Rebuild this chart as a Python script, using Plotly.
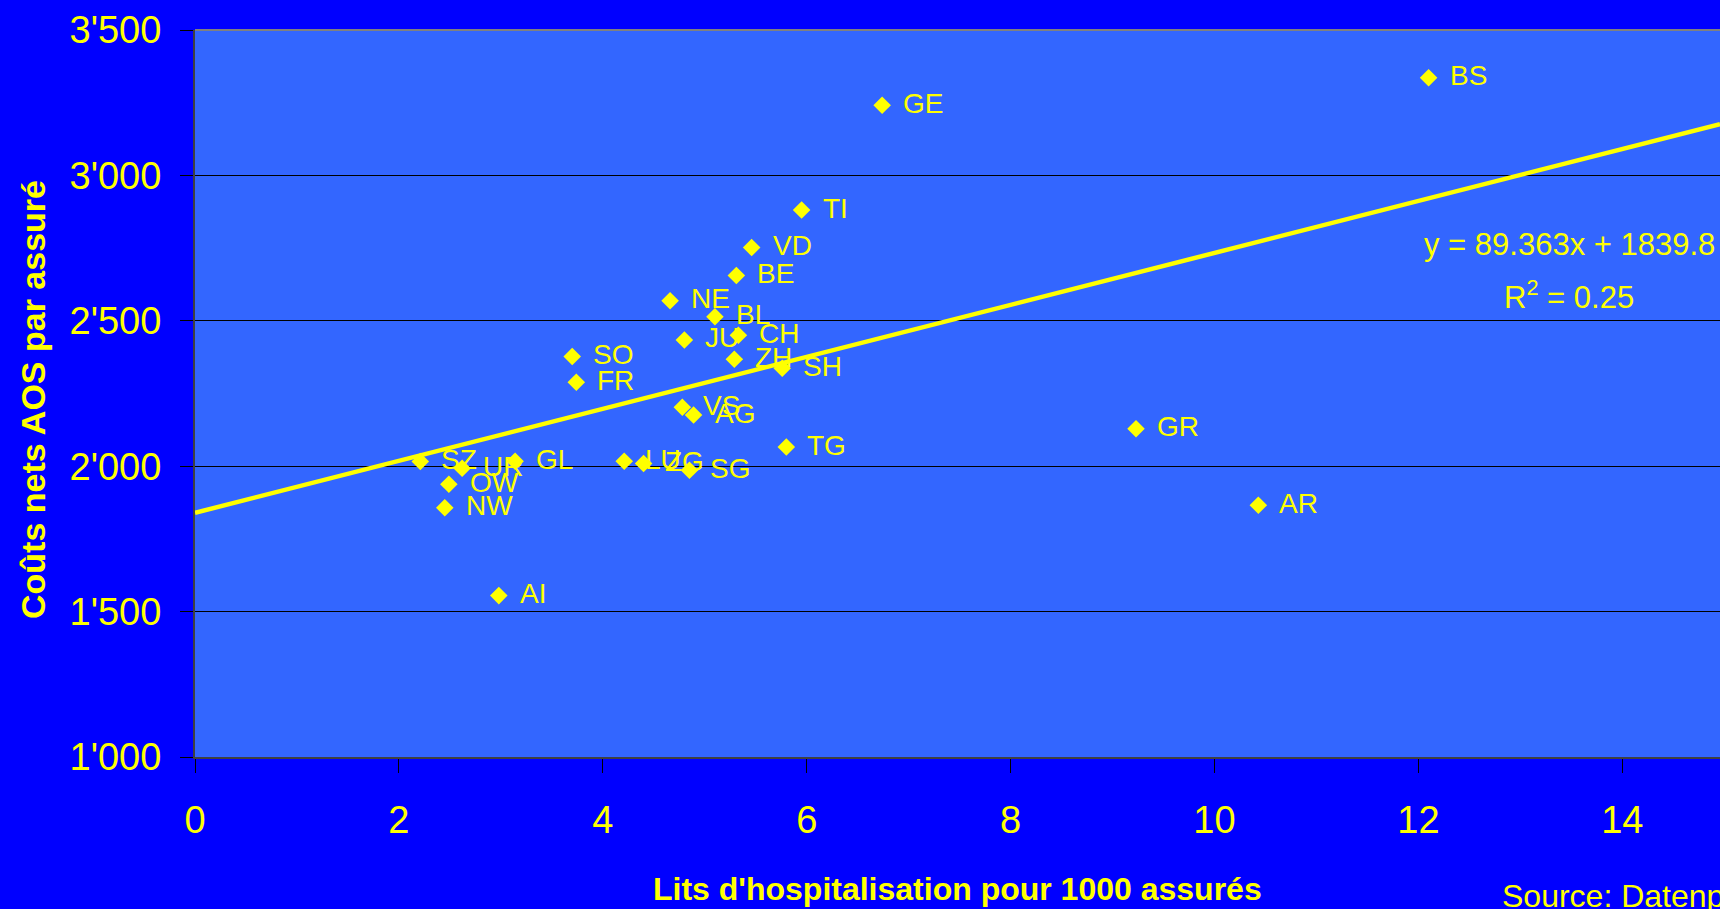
import plotly.graph_objects as go

# Canton data: hospital beds per 1000 insured (x) vs net AOS cost per insured (y)
cantons = ["SO", "FR", "SZ", "UR", "GL", "OW", "NW", "AI", "LU", "ZG", "SG", "VS", "AG",
           "TG", "SH", "ZH", "JU", "CH", "BL", "NE", "TI", "VD", "BE", "GE", "BS", "GR", "AR"]
beds = [3.70, 3.74, 2.21, 2.62, 3.14, 2.49, 2.45, 2.98, 4.21, 4.40, 4.85, 4.78, 4.89,
        5.80, 5.76, 5.29, 4.80, 5.33, 5.10, 4.66, 5.95, 5.46, 5.31, 6.74, 12.10, 9.23, 10.43]
costs = [2377, 2289, 2016, 1993, 2017, 1938, 1857, 1555, 2017, 2009, 1986, 2203, 2176,
         2066, 2337, 2368, 2434, 2450, 2514, 2569, 2881, 2752, 2656, 3241, 3336, 2129, 1866]

# Linear trend (as printed on the chart)
trend_slope = 89.363
trend_intercept = 1839.8
equation_text = "y = 89.363x + 1839.8"
r2_text = "R<sup>2</sup> = 0.25"

x_ticks = [0, 2, 4, 6, 8, 10, 12, 14]
y_ticks = [1000, 1500, 2000, 2500, 3000, 3500]

x_title = "Lits d'hospitalisation pour 1000 assurés"
y_title = "Coûts nets AOS par assuré"
source_text = "Source: Datenpool santésuisse"

W, H = 1720, 909
ML, MR, MT, MB = 195, 0, 30, 152
PW, PH = W - ML - MR, H - MT - MB
PX_PER_X = 101.95
x_max = PW / PX_PER_X

YELLOW = "#FFFF00"
FONT = "Liberation Sans, Arial, sans-serif"


def px_to_paper(px, py):
    return (px - ML) / PW, (H - MB - py) / PH


fig = go.Figure()

trend_x = [0, x_max]
trend_y = [trend_intercept + trend_slope * v for v in trend_x]
fig.add_trace(go.Scatter(x=trend_x, y=trend_y, mode="lines",
                         line=dict(color=YELLOW, width=4.5), hoverinfo="skip",
                         showlegend=False))

fig.add_trace(go.Scatter(x=beds, y=costs, mode="markers", text=cantons,
                         marker=dict(symbol="diamond", size=13.5, color=YELLOW,
                                     line=dict(width=0)),
                         showlegend=False))

annotations = []
for name, xv, yv in zip(cantons, beds, costs):
    annotations.append(dict(x=xv, y=yv, xref="x", yref="y", text=name,
                            showarrow=False, xanchor="left", yanchor="middle",
                            xshift=19, yshift=2,
                            font=dict(family=FONT, size=28, color=YELLOW)))

annotations.append(dict(x=13.48, y=2762, xref="x", yref="y", text=equation_text,
                        showarrow=False, xanchor="center", yanchor="middle",
                        font=dict(family=FONT, size=31, color=YELLOW)))
annotations.append(dict(x=13.48, y=2590, xref="x", yref="y", text=r2_text,
                        showarrow=False, xanchor="center", yanchor="middle",
                        font=dict(family=FONT, size=31, color=YELLOW)))

yx, yy = px_to_paper(33, 400)
annotations.append(dict(x=yx, y=yy, xref="paper", yref="paper",
                        text="<b>" + y_title + "</b>", textangle=-90,
                        showarrow=False, xanchor="center", yanchor="middle",
                        font=dict(family=FONT, size=34, color=YELLOW)))
tx, ty = px_to_paper(0, 889)
annotations.append(dict(x=0.5, y=ty, xref="paper", yref="paper",
                        text="<b>" + x_title + "</b>",
                        showarrow=False, xanchor="center", yanchor="middle",
                        font=dict(family=FONT, size=32, color=YELLOW)))
sx, sy = px_to_paper(1500, 876)
annotations.append(dict(x=sx, y=sy, xref="paper", yref="paper",
                        text=source_text,
                        showarrow=False, xanchor="left", yanchor="top",
                        font=dict(family=FONT, size=32, color=YELLOW)))

fig.update_layout(
    width=W, height=H,
    margin=dict(l=ML, r=MR, t=MT, b=MB, pad=0),
    paper_bgcolor="#0000FF",
    plot_bgcolor="#3366FF",
    separators=".'",
    showlegend=False,
    annotations=annotations,
    shapes=[dict(type="line", xref="paper", yref="paper", x0=0, x1=1, y0=1, y1=1,
                 line=dict(color="#808080", width=2))],
    font=dict(family=FONT, color=YELLOW),
)

fig.update_xaxes(range=[0, x_max], tickvals=x_ticks, showgrid=False, zeroline=False,
                 showline=True, linecolor="#404040", linewidth=2,
                 ticks="outside", ticklen=14, tickcolor="black", tickwidth=1,
                 ticklabelstandoff=14,
                 tickfont=dict(family=FONT, size=38, color=YELLOW))
fig.update_yaxes(range=[1000, 3500], tickvals=y_ticks, tickformat=",",
                 showgrid=True, gridcolor="black", gridwidth=1, zeroline=False,
                 showline=True, linecolor="#404040", linewidth=2,
                 ticks="outside", ticklen=13, tickcolor="black", tickwidth=1,
                 ticklabelstandoff=11,
                 tickfont=dict(family=FONT, size=38, color=YELLOW))

fig.write_html("out.html",
               config={"displayModeBar": False},
               post_script="document.body.style.margin='0';"
                           "document.body.style.overflow='hidden';")
